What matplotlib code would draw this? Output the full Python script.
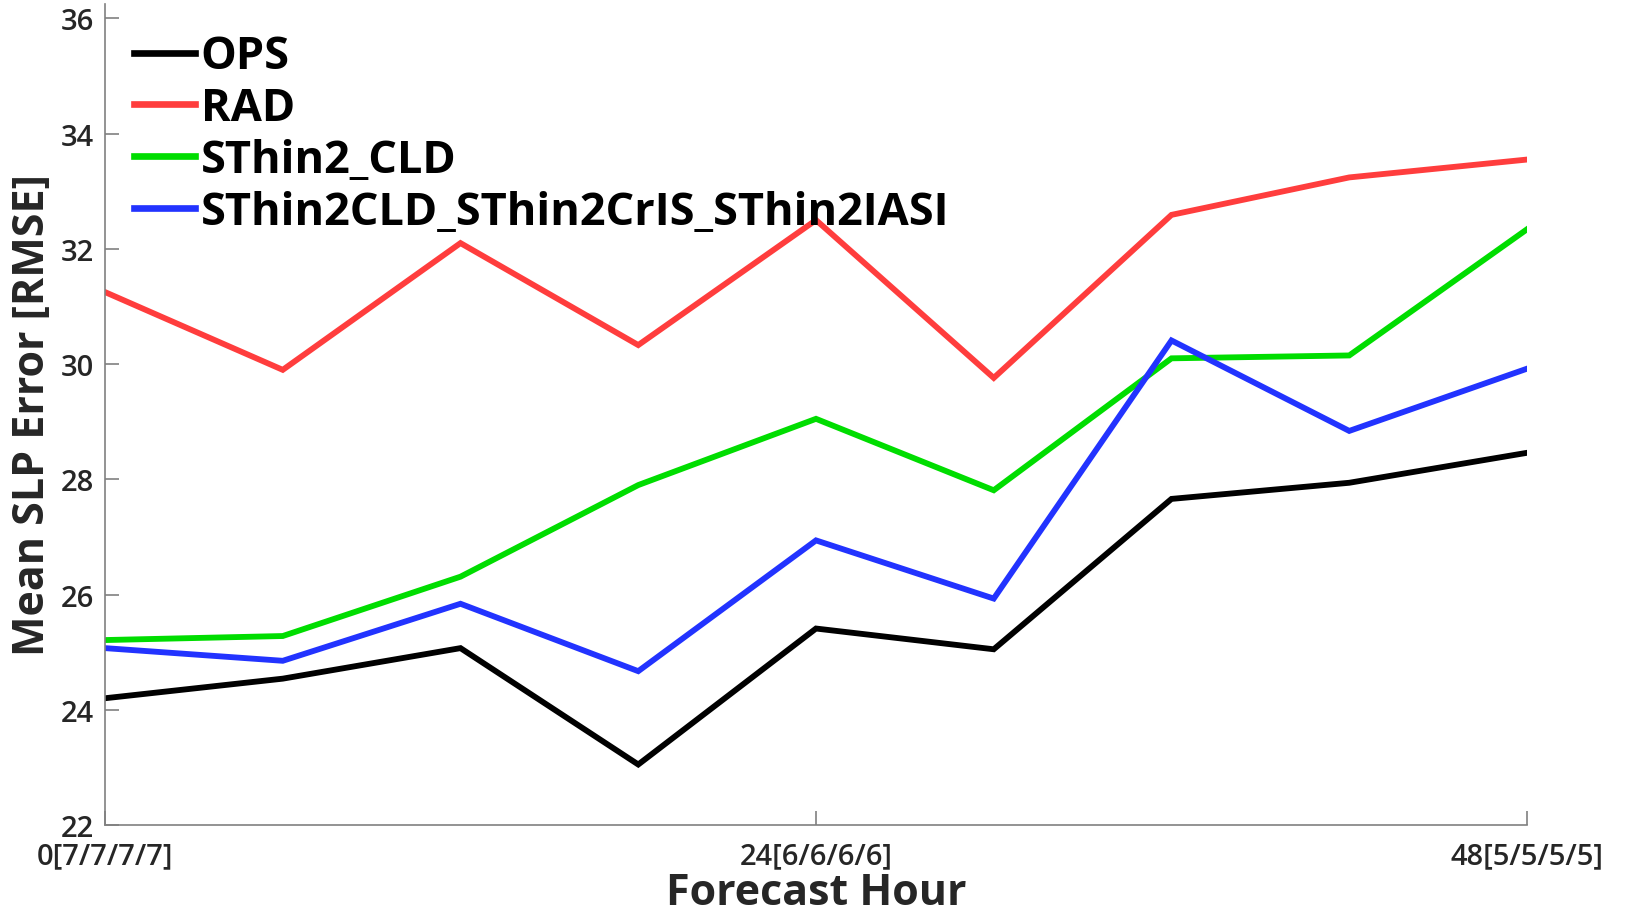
import matplotlib
matplotlib.use("Agg")
import matplotlib.pyplot as plt

hours = [0, 6, 12, 18, 24, 30, 36, 42, 48]
xtick_pos = [0, 24, 48]
xtick_labels = ["0[7/7/7/7]", "24[6/6/6/6]", "48[5/5/5/5]"]
yticks = [22, 24, 26, 28, 30, 32, 34, 36]

ops = [24.20, 24.54, 25.07, 23.05, 25.41, 25.05, 27.66, 27.94, 28.46]
rad = [31.25, 29.90, 32.10, 30.33, 32.50, 29.76, 32.59, 33.24, 33.55]
sthin2_cld = [25.21, 25.28, 26.31, 27.90, 29.05, 27.81, 30.10, 30.15, 32.34]
sthin2_all = [25.07, 24.85, 25.84, 24.67, 26.94, 25.93, 30.41, 28.84, 29.92]

series = [
    ("OPS", ops, "#000000"),
    ("RAD", rad, "#FF3D3D"),
    ("SThin2_CLD", sthin2_cld, "#00DD00"),
    ("SThin2CLD_SThin2CrIS_SThin2IASI", sthin2_all, "#2233FF"),
]

plt.rcParams['font.family'] = ['Open Sans', 'DejaVu Sans']

fig = plt.figure(figsize=(16.28, 9.12), dpi=100)
ax = fig.add_axes([105/1628, (912-826)/912, (1527-105)/1628, (826-5)/912])

for name, vals, col in series:
    ax.plot(hours, vals, color=col, lw=4.2, label=name, solid_joinstyle='miter')

ax.set_xlim(0, 48)
ax.set_ylim(22, 36.25)
ax.set_xticks(xtick_pos)
ax.set_xticklabels(xtick_labels)
ax.set_yticks(yticks)
ax.spines['top'].set_visible(False)
ax.spines['right'].set_visible(False)
for s in ('left', 'bottom'):
    ax.spines[s].set_color('#808080')
    ax.spines[s].set_linewidth(1.2)
ax.tick_params(direction='in', length=10, width=1.2, color='#808080',
               labelsize=21, labelcolor='#262626')
ax.tick_params(axis='x', pad=12)
ax.tick_params(axis='y', pad=8)
for lab in ax.get_xticklabels() + ax.get_yticklabels():
    lab.set_fontweight('semibold')

ax.set_xlabel("Forecast Hour", fontsize=31, fontweight='bold', color='#262626', labelpad=0)
ax.set_ylabel("Mean SLP Error [RMSE]", fontsize=31, fontweight='bold', color='#262626', labelpad=5)

leg = ax.legend(loc='upper left', frameon=False, prop={'size': 32.5, 'weight': 'bold'},
                handlelength=1.35, handletextpad=0.12, labelspacing=0.15,
                borderaxespad=0.0, bbox_to_anchor=(0.008, 0.985))
for h in leg.get_lines():
    h.set_linewidth(4.8)

fig.savefig("out.png", dpi=100)
